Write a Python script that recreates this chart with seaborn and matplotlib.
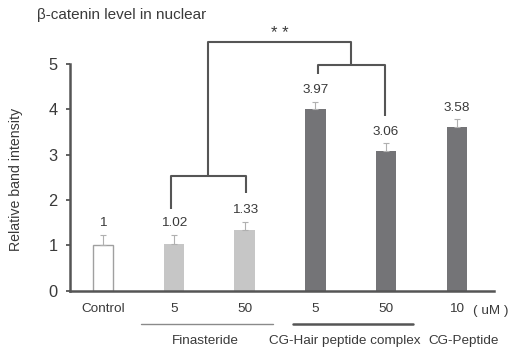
import matplotlib
matplotlib.use("Agg")
import matplotlib.pyplot as plt
import seaborn as sns
import numpy as np
import pandas as pd

# ---- data ----
conditions = ["Control", "Fin 5", "Fin 50", "CGH 5", "CGH 50", "CGP 10"]
dose_labels = ["Control", "5", "50", "5", "50", "10"]
values = [1.01, 1.035, 1.34, 4.01, 3.08, 3.61]
errors = [0.22, 0.19, 0.18, 0.15, 0.17, 0.17]
value_labels = ["1", "1.02", "1.33", "3.97", "3.06", "3.58"]
bar_colors = ["#ffffff", "#c6c6c6", "#c6c6c6", "#737377", "#737377", "#737377"]
group_names = ["Finasteride", "CG-Hair peptide complex", "CG-Peptide"]
yticks = [0, 1, 2, 3, 4, 5]

sns.set_style("white")
plt.rcParams['font.family'] = ['Liberation Sans', 'DejaVu Sans']
TXT = "#3a3a3a"
AX = "#555555"
FS = 9.7

df = pd.DataFrame({"cond": conditions, "value": values})

fig = plt.figure(figsize=(5.23, 3.49), dpi=100)
ax = fig.add_axes([70/523, 1-290.7/349, 424.3/523, 226.7/349])

sns.barplot(data=df, x="cond", y="value", hue="cond", order=conditions,
            palette=bar_colors, legend=False, width=0.29, linewidth=0,
            errorbar=None, ax=ax)
for p, c in zip(ax.patches, bar_colors):
    if c == "#ffffff":
        p.set_edgecolor("#a0a0a0")
        p.set_linewidth(1.0)

xs = np.arange(len(conditions))
ax.errorbar(xs, values, yerr=[np.zeros(len(values)), errors], fmt="none",
            ecolor="#b0b0b0", elinewidth=0.8, capsize=2.5, capthick=0.8)

for x, v, e, lab in zip(xs, values, errors, value_labels):
    ax.text(x, v + e + 0.26, lab, ha="center", va="center",
            fontsize=FS, color=TXT)

ax.set_xlim(-0.47, 5.53)
ax.set_ylim(0, 5)
ax.set_yticks(yticks)
ax.set_yticklabels([str(t) for t in yticks], fontsize=11.8, color=TXT)
ax.set_xticks(xs)
ax.set_xticklabels(dose_labels, fontsize=FS, color=TXT)
ax.set_xticks(np.arange(6) + 0.53, minor=True)
ax.tick_params(axis="x", which="major", length=0, pad=9)
ax.tick_params(axis="x", which="minor", length=5.5, width=1.3, color=AX, direction="out")
ax.tick_params(axis="y", length=3, width=1.3, color=AX, direction="out", pad=6, left=True)
ax.set_xlabel("")
ax.set_ylabel("Relative band intensity", fontsize=10.2, color=TXT)
ax.yaxis.set_label_coords(-0.111, 0.49)

for s in ["top", "right"]:
    ax.spines[s].set_visible(False)
for s in ["left", "bottom"]:
    ax.spines[s].set_color(AX)
    ax.spines[s].set_linewidth(1.8)

# unit label
ax.text(5.48, -0.44, "( uM )", ha="center", va="center", fontsize=FS,
        color=TXT, clip_on=False)

# group lines and names
ax.plot([0.53, 2.40], [-0.73, -0.73], color="#8a8a8a", lw=1.0, clip_on=False)
ax.plot([2.68, 4.38], [-0.73, -0.73], color="#555555", lw=1.8, clip_on=False)
ax.text(1.45, -1.1, group_names[0], ha="center", va="center", fontsize=FS, color=TXT, clip_on=False)
ax.text(3.42, -1.1, group_names[1], ha="center", va="center", fontsize=FS, color=TXT, clip_on=False)
ax.text(5.10, -1.1, group_names[2], ha="center", va="center", fontsize=FS, color=TXT, clip_on=False)

# significance brackets
bk = dict(color="#555555", lw=1.5, clip_on=False, solid_capstyle="butt")
ax.plot([0.954, 0.954, 2.02, 2.02], [1.80, 2.54, 2.54, 2.15], **bk)
ax.plot([3.03, 3.03, 3.98, 3.98], [4.79, 4.98, 4.98, 3.85], **bk)
ax.plot([1.486, 1.486, 3.50, 3.50], [2.54, 5.49, 5.49, 4.98], **bk)
ax.text(2.50, 5.68, "* *", ha="center", va="center", fontsize=12, color=TXT, clip_on=False)

fig.text(36.7/523, 1-15/349, "β-catenin level in nuclear", ha="left", va="center",
         fontsize=11, color=TXT)

fig.savefig("out.png", dpi=100)
